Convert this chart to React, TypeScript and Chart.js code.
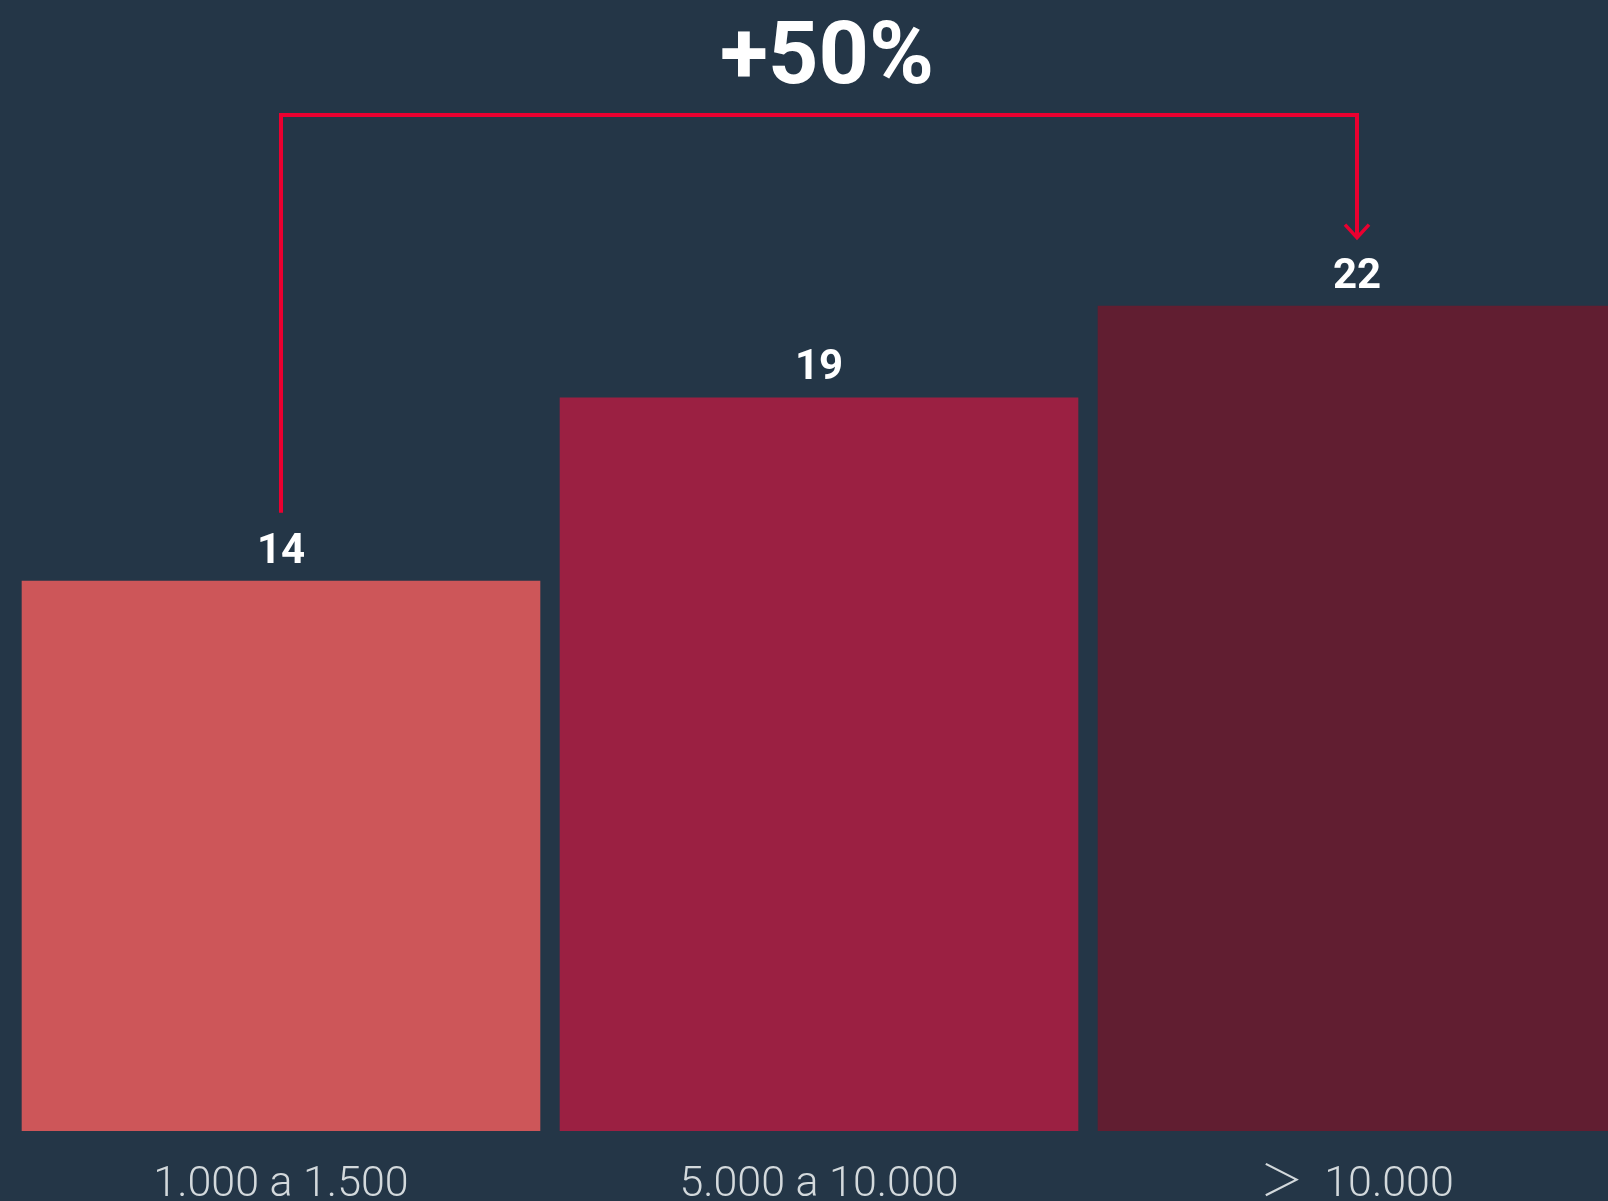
import React, { useEffect, useRef } from "react";
import { Chart, registerables } from "chart.js";

Chart.register(...registerables);

const categories = ["1.000 a 1.500", "5.000 a 10.000", "＞  10.000"];
const values = [14.4, 19.2, 21.6];
const barColors = ["#cd5659", "#9b2042", "#611e31"];
const yMax = 29.6;
const bracketFrom = 0;
const bracketTo = 2;

const BG = "#243647";
const RED = "#ea0030";
const TICK_COLOR = "#d3d9dc";
const FONT = "Roboto, 'Noto Sans CJK SC', 'DejaVu Sans', sans-serif";

const annotatePlugin = {
  id: "annotate",
  afterDatasetsDraw(chart: any) {
    const ctx = chart.ctx as CanvasRenderingContext2D;
    const bars = chart.getDatasetMeta(0).data as any[];
    ctx.save();

    // value labels above bars
    ctx.fillStyle = "#ffffff";
    ctx.font = `bold 42px ${FONT}`;
    ctx.textAlign = "center";
    ctx.textBaseline = "alphabetic";
    bars.forEach((b, i) => {
      ctx.fillText(String(Math.round(values[i])), b.x, b.y - 18);
    });

    // bracket with arrow
    const from = bars[bracketFrom];
    const to = bars[bracketTo];
    const lineY = chart.chartArea.top + 115;
    const startY = from.y - 68;
    const endY = to.y - 68;
    ctx.strokeStyle = RED;
    ctx.lineWidth = 4;
    ctx.lineJoin = "miter";
    ctx.lineCap = "butt";
    ctx.beginPath();
    ctx.moveTo(from.x, startY);
    ctx.lineTo(from.x, lineY);
    ctx.lineTo(to.x, lineY);
    ctx.lineTo(to.x, endY);
    ctx.stroke();
    ctx.lineWidth = 3.5;
    ctx.beginPath();
    ctx.moveTo(to.x - 12, endY - 13);
    ctx.lineTo(to.x, endY);
    ctx.lineTo(to.x + 12, endY - 13);
    ctx.stroke();

    // change label
    const pct = Math.round((values[bracketTo] / values[bracketFrom] - 1) * 100);
    ctx.fillStyle = "#ffffff";
    ctx.font = `bold 88px ${FONT}`;
    ctx.textAlign = "center";
    ctx.fillText(`+${pct}%`, (from.x + to.x) / 2 + 8, chart.chartArea.top + 83);

    ctx.restore();
  },
};

export default function App() {
  const canvasRef = useRef<HTMLCanvasElement | null>(null);

  useEffect(() => {
    if (!canvasRef.current) return;
    const chart = new Chart(canvasRef.current, {
      type: "bar",
      data: {
        labels: categories,
        datasets: [
          {
            data: values,
            backgroundColor: barColors,
            borderWidth: 0,
            barPercentage: 0.964,
            categoryPercentage: 1,
          },
        ],
      },
      options: {
        animation: false,
        responsive: false,
        maintainAspectRatio: false,
        devicePixelRatio: 1,
        layout: { padding: { left: 12, right: 0, top: 0, bottom: 0 } },
        plugins: {
          legend: { display: false },
          tooltip: { enabled: false },
          title: { display: false },
        },
        scales: {
          y: { display: false, min: 0, max: yMax },
          x: {
            grid: { display: false, drawTicks: false },
            border: { display: false },
            ticks: {
              color: TICK_COLOR,
              font: { family: FONT, size: 43, weight: "300" as any, lineHeight: 1 },
              padding: 33,
              maxRotation: 0,
              autoSkip: false,
            },
          },
        },
      },
      plugins: [annotatePlugin],
    });
    return () => chart.destroy();
  }, []);

  return (
    <div
      style={{
        position: "fixed",
        left: 0,
        top: 0,
        width: 1608,
        height: 1201,
        overflow: "hidden",
        background: BG,
      }}
    >
      <canvas ref={canvasRef} width={1626} height={1240} style={{ display: "block" }} />
    </div>
  );
}
